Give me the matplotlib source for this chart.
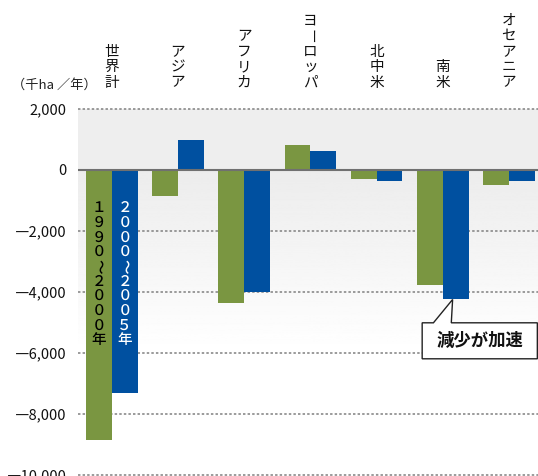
import numpy as np
import matplotlib.pyplot as plt
from matplotlib.patches import Polygon
from matplotlib import transforms

plt.rcParams['font.family'] = ['Noto Sans CJK JP', 'DejaVu Sans']

# 森林面積の年間変化（千ha／年）
regions = ['世界計', 'アジア', 'アフリカ', 'ヨーロッパ', '北中米', '南米', 'オセアニア']
change_1990_2000 = [-8870, -840, -4350, 820, -295, -3790, -480]
change_2000_2005 = [-7320, 985, -4020, 625, -360, -4250, -360]
period_labels = ['１９９０～２０００年', '２０００～２００５年']
yticks = [2000, 0, -2000, -4000, -6000, -8000, -10000]
ytick_labels = ['2,000', '0', '―2,000', '―4,000', '―6,000', '―8,000', '―10,000']
callout_text = '減少が加速'

green = '#7a9641'
blue = '#0050a0'

fig = plt.figure(figsize=(5.38, 4.76), dpi=100)
W, H = 538, 476
ax = fig.add_axes([78 / W, 0, 460 / W, (H - 109) / H])

# background: flat gray above zero, fading to white below
ax.axhspan(0, 2000, color='#eeeeee', zorder=0, lw=0)
grad = np.linspace(0.925, 1.0, 256).reshape(-1, 1)
ax.imshow(grad, cmap='gray', vmin=0, vmax=1, aspect='auto',
          extent=[-0.51, 6.44, -6000, 0], zorder=0, origin='upper')
ax.set_xlim(-0.51, 6.44)
ax.set_ylim(-10043, 2000)

for y in yticks:
    if y != 0:
        ax.axhline(y, color='#808080', lw=1.1, ls=(0, (1.6, 1.4)), zorder=1,
                   clip_on=False)

x = np.arange(len(regions))
w = 0.39
ax.bar(x - w / 2, change_1990_2000, w, color=green, zorder=2)
ax.bar(x + w / 2, change_2000_2005, w, color=blue, zorder=2)
ax.axhline(0, color='#707070', lw=1.5, zorder=3)

ax.set_yticks(yticks, ytick_labels)
ax.tick_params(axis='y', length=0, pad=8, labelsize=10.5, labelcolor='#111111')
ax.set_xticks([])
for s in ax.spines.values():
    s.set_visible(False)


def stack_text(xpos, ys, text, transform, **kw):
    # vertical writing: one character per row
    for ch, yy in zip(text, ys):
        rot = -90 if ch in 'ー～' else 0
        ax.text(xpos, yy, ch, transform=transform, ha='center', va='center',
                rotation=rot, rotation_mode='anchor', clip_on=False, **kw)


# region names above the plot
tr = transforms.blended_transform_factory(ax.transData, fig.transFigure)
for i, name in enumerate(regions):
    n = len(name)
    ys = [1 - (82.5 - (n - 1 - k) * 15.4) / H for k in range(n)]
    stack_text(i, ys, name, tr, fontsize=10.5, color='#111111')

# period labels inside the world bars
step = 483
for dx, label, col in [(-w / 2, period_labels[0], 'black'),
                       (w / 2, period_labels[1], 'white')]:
    ys = [-1246 - k * step for k in range(len(label))]
    stack_text(dx, ys, label, ax.transData, fontsize=10.5, color=col,
               zorder=4, fontweight='medium')

fig.text(12 / W, 1 - 85 / H, '（千ha ／年）', fontsize=9.5, va='center',
         ha='left', color='#222222')

# callout pointing at the South America bar
bx0, bx1, by0, by1 = 4.69, 6.43, -5016, -6197
tip = (5.15, change_2000_2005[5])
pts = [(bx0, by0), (4.86, by0), tip, (5.13, by0), (bx1, by0), (bx1, by1),
       (bx0, by1)]
ax.add_patch(Polygon(pts, closed=True, facecolor='white', edgecolor='#222222',
                     lw=1.0, zorder=5, clip_on=False))
ax.text((bx0 + bx1) / 2, (by0 + by1) / 2, callout_text, ha='center',
        va='center', fontsize=12.5, fontweight='bold', zorder=6,
        color='#111111')

fig.savefig('out.png', dpi=100)
